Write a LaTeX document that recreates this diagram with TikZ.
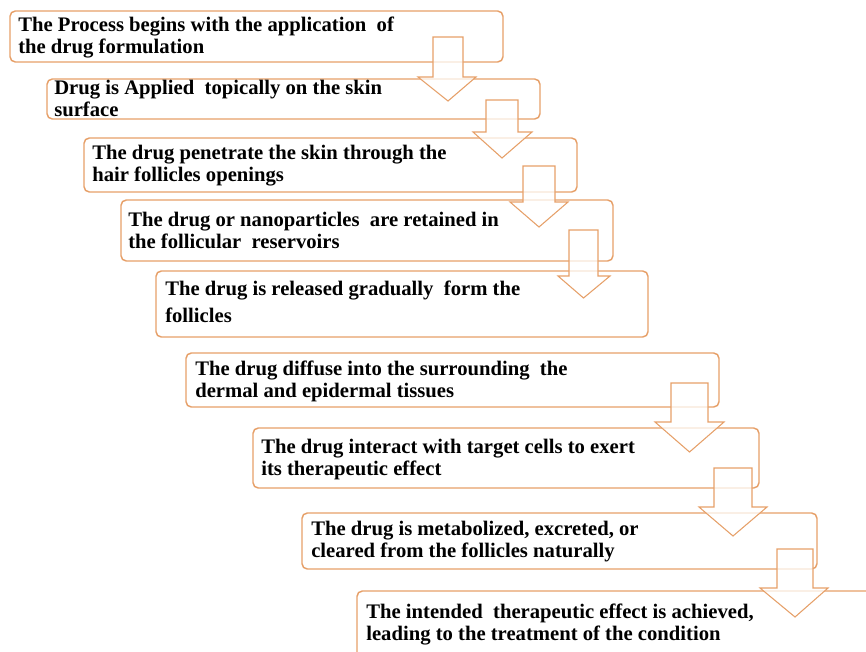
\documentclass[tikz,border=0pt]{standalone}
\usepackage{fontspec}
\setmainfont{Liberation Serif}
\usetikzlibrary{fit}
\definecolor{edge}{RGB}{230,160,105}
\newcommand\flowarrow[8]{% name, shaft left, shaft right, top, head base, wing left, wing right, tip
  \draw[arrowst] (#2,#4) -- (#3,#4) -- (#3,#5) -- (#7,#5) -- ({(#2+#3)/2},#8) coordinate (#1) -- (#6,#5) -- (#2,#5) -- cycle;}
\newcommand\twolines[2]{\begin{tabular}[t]{@{}l@{}}#1\\#2\end{tabular}}
\begin{document}
\begin{tikzpicture}[x=0.75pt,y=-0.75pt,
  boxst/.style={draw=edge, line width=1.1pt, rounded corners=4pt, inner sep=0pt},
  txt/.style={anchor=base west, inner sep=0pt, font=\fontsize{15.5}{16.5}\selectfont\bfseries},
  arrowst/.style={draw=edge, line width=0.8pt, fill=white, fill opacity=0.75}]
\useasboundingbox (0,0) rectangle (866,651);
\clip (0,0) rectangle (866,651);
% boxes
\node[boxst, fit={(10,11) (503,62)}] (b1) {};
\node[boxst, fit={(47,79) (540,119)}] (b2) {};
\node[boxst, fit={(84,138) (577,192)}] (b3) {};
\node[boxst, fit={(121,200) (613,261)}] (b4) {};
\node[boxst, fit={(156,271) (648,337)}] (b5) {};
\node[boxst, fit={(186,353) (719,407)}] (b6) {};
\node[boxst, fit={(253,428) (759,488)}] (b7) {};
\node[boxst, fit={(302,513) (817,569)}] (b8) {};
\node[boxst, fit={(357,591) (920,720)}] (b9) {};
% texts
\node[txt] (t1) at (18,31) {\twolines{The Process begins with the application\ \ of}{the drug formulation}};
\node[txt] (t2) at (54,94) {\twolines{Drug is Applied\ \ topically on the skin}{surface}};
\node[txt] (t3) at (92,159) {\twolines{The drug penetrate the skin through the}{hair follicles openings}};
\node[txt] (t4) at (128,226) {\twolines{The drug or nanoparticles\ \ are retained in}{the follicular\ \ reservoirs}};
\node[txt] (t5) at (165,295) {\begin{tabular}[t]{@{}l@{}}The drug is released gradually\ \ form the\\[4pt]follicles\end{tabular}};
\node[txt] (t6) at (195,375) {\twolines{The drug diffuse into the surrounding\ \ the}{dermal and epidermal tissues}};
\node[txt] (t7) at (261,453) {\twolines{The drug interact with target cells to exert}{its therapeutic effect}};
\node[txt] (t8) at (311,535) {\twolines{The drug is metabolized, excreted, or}{cleared from the follicles naturally}};
\node[txt] (t9) at (366,618) {\twolines{The intended\ \ therapeutic effect is achieved,}{leading to the treatment of the condition}};
% arrows
\flowarrow{a1}{433}{463}{37}{77}{418}{476}{101}
\flowarrow{a2}{486}{518}{100}{132}{473}{532}{158}
\flowarrow{a3}{523}{555}{166}{202}{510}{568}{227}
\flowarrow{a4}{569}{598}{230}{276}{558}{610}{298}
\flowarrow{a5}{671}{708}{383}{422}{655}{724}{452}
\flowarrow{a6}{714}{752}{468}{507}{699}{767}{536}
\flowarrow{a7}{777}{813}{549}{588}{760}{828}{617}
\end{tikzpicture}
\end{document}
